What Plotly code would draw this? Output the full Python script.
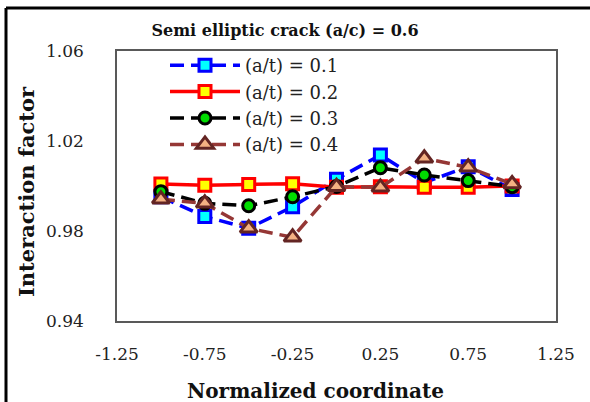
import plotly.graph_objects as go

# Normalized coordinate along the crack front
coord = [-1.0, -0.75, -0.5, -0.25, 0.0, 0.25, 0.5, 0.75, 1.0]

# Interaction factor for each crack depth ratio (a/t)
at_01 = [0.9952, 0.9864, 0.9812, 0.9908, 1.0030, 1.0138, 1.0015, 1.0086, 0.9985]
at_02 = [1.0009, 1.0003, 1.0007, 1.0010, 0.9995, 0.9997, 0.9994, 0.9994, 1.0000]
at_03 = [0.9975, 0.9923, 0.9912, 0.9952, 0.9998, 1.0081, 1.0049, 1.0024, 0.9997]
at_04 = [0.9941, 0.9923, 0.9812, 0.9772, 0.9997, 0.9994, 1.0123, 1.0083, 1.0009]

series_names = ["(a/t) = 0.1", "(a/t) = 0.2", "(a/t) = 0.3", "(a/t) = 0.4"]

x_ticks = [-1.25, -0.75, -0.25, 0.25, 0.75, 1.25]
y_ticks = [0.94, 0.98, 1.02, 1.06]

SERIF = "DejaVu Serif"
DASH = "14px,7px"

W, H = 590, 402
L, R, T, B = 117, 34, 51, 81
PW, PH = W - L - R, H - T - B


def px_x(p):
    """Horizontal pixel position -> paper coordinate."""
    return (p - L) / PW


def px_y(p):
    """Vertical pixel position (from top) -> paper coordinate."""
    return 1 - (p - T) / PH


styles = [
    dict(line=dict(color="#0000FF", width=3.5, dash=DASH),
         marker=dict(symbol="square", size=12, color="#00FFFF",
                     line=dict(color="#0000FF", width=3))),
    dict(line=dict(color="#FF0000", width=3.5),
         marker=dict(symbol="square", size=12, color="#FFFF00",
                     line=dict(color="#FF0000", width=3))),
    dict(line=dict(color="#000000", width=3.5, dash=DASH),
         marker=dict(symbol="circle", size=12, color="#00DD00",
                     line=dict(color="#000000", width=3))),
    dict(line=dict(color="#953735", width=3.5, dash=DASH),
         marker=dict(symbol="triangle-up", size=15, color="#F4B183",
                     line=dict(color="#632523", width=3))),
]

fig = go.Figure()
for name, ys, st in zip(series_names, [at_01, at_02, at_03, at_04], styles):
    fig.add_trace(go.Scatter(x=coord, y=ys, name=name, mode="lines+markers",
                             line=st["line"], marker=st["marker"]))

fig.update_layout(
    width=W, height=H,
    margin=dict(l=L, r=R, t=T, b=B),
    paper_bgcolor="white", plot_bgcolor="white",
    font=dict(family=SERIF, size=17, color="#222222"),
    showlegend=True,
    legend=dict(x=px_x(165), y=px_y(47), xanchor="left", yanchor="top",
                bgcolor="rgba(0,0,0,0)", font=dict(family=SERIF, size=18),
                tracegroupgap=0, itemwidth=70),
    xaxis=dict(range=[-1.25, 1.25], tickvals=x_ticks,
               ticktext=[f"{v:.2f}" for v in x_ticks],
               showgrid=False, zeroline=False, ticks="",
               showline=True, mirror=True, linecolor="#595959", linewidth=1.5,
               ticklabelstandoff=17),
    yaxis=dict(range=[0.94, 1.06], tickvals=y_ticks,
               ticktext=[f"{v:.2f}" for v in y_ticks],
               showgrid=False, zeroline=False, ticks="",
               showline=True, mirror=True, linecolor="#595959", linewidth=1.5,
               ticklabelstandoff=28),
    title=dict(text="<b>Semi elliptic crack (a/c) = 0.6</b>",
               font=dict(family=SERIF, size=16, color="#111111"),
               x=285 / W, xanchor="center", y=1 - 30 / H, yanchor="middle"),
)

# Axis titles
fig.add_annotation(text="<b>Normalized coordinate</b>", xref="paper", yref="paper",
                   x=px_x(315), y=px_y(391), xanchor="center", yanchor="middle",
                   showarrow=False, font=dict(family=SERIF, size=20, color="#111111"))
fig.add_annotation(text="<b>Interaction factor</b>", xref="paper", yref="paper",
                   x=px_x(26), y=px_y(192), xanchor="center", yanchor="middle",
                   textangle=-90, showarrow=False,
                   font=dict(family=SERIF, size=21, color="#111111"))

# Outer frame of the chart area (left and top edges)
fig.add_shape(type="line", xref="paper", yref="paper",
              x0=px_x(6), x1=px_x(600), y0=px_y(8), y1=px_y(8),
              line=dict(color="black", width=3))
fig.add_shape(type="line", xref="paper", yref="paper",
              x0=px_x(6), x1=px_x(6), y0=px_y(420), y1=px_y(8),
              line=dict(color="black", width=3))

fig.write_html("out.html")
